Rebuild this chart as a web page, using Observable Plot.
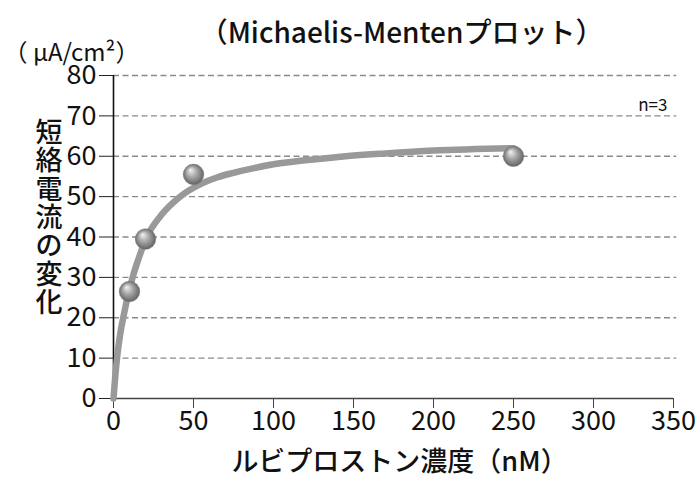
<!DOCTYPE html>
<html><head><meta charset="utf-8">
<script src="https://cdn.jsdelivr.net/npm/d3@7"></script>
<script src="https://cdn.jsdelivr.net/npm/@observablehq/plot@0.6"></script>
<style>
body{margin:0;background:#fff;} svg{display:block;}
</style>
</head><body><div id="chart"></div>
<script>
// Measured points (concentration nM, change in short-circuit current μA/cm²)
const conc = [10, 20, 50, 250];
const current = [26.5, 39.5, 55.5, 60];
// Fitted Michaelis-Menten curve
const curveX = [0, 1, 2.2, 4, 6.6, 9, 12.3, 16, 20.2, 30, 41, 55, 65, 75, 87, 100, 120, 142, 170, 200, 250];
const curveY = [0, 5, 10, 15.5, 21, 25.5, 30.5, 35, 39.5, 45.5, 49.8, 53.2, 54.8, 55.9, 57.0, 58.0, 59.0, 59.9, 60.7, 61.4, 62];
const yTicks = [0, 10, 20, 30, 40, 50, 60, 70, 80];
const xTicks = [0, 50, 100, 150, 200, 250, 300, 350];
const gridY = [10, 20, 30, 40, 50, 60, 70, 80];
const title = "（Michaelis-Mentenプロット）";
const unitLabel = "（ μA/cm²）";
const yLabel = "短絡電流の変化";
const xLabel = "ルビプロストン濃度（nM）";
const note = "n=3";

const points = conc.map((c, i) => ({x: c, y: current[i]}));
const curve = curveX.map((c, i) => ({x: c, y: curveY[i]}));
const font = "'Noto Sans CJK JP', 'Noto Sans', sans-serif";
const tickFont = "'Liberation Sans Narrow', 'Noto Sans CJK JP', sans-serif";

const plot = Plot.plot({
  width: 700, height: 490,
  marginLeft: 113, marginRight: 27, marginTop: 75, marginBottom: 92,
  style: {fontFamily: font, fontSize: "22px", color: "#111", background: "#fff"},
  x: {domain: [0, 350], label: null},
  y: {domain: [0, 80], label: null},
  marks: [
    Plot.ruleY(gridY, {x1: 0, x2: 352, stroke: "#8a8a8a", strokeWidth: 1.4, strokeDasharray: "6,3.5"}),
    Plot.axisX({ticks: xTicks, tickSize: 10, tickPadding: 2, label: null, stroke: "#444", fontSize: 27, fontFamily: tickFont}),
    Plot.axisY({ticks: yTicks, tickSize: 14, tickPadding: 3, label: null, stroke: "#222", fontSize: 27, fontFamily: tickFont}),
    Plot.ruleY([0], {x1: 0, x2: 350, stroke: "#444", strokeWidth: 1.6}),
    Plot.ruleX([0], {y1: 0, y2: 80, stroke: "#111", strokeWidth: 1.6}),
    Plot.line(curve, {x: "x", y: "y", curve: "monotone-x", stroke: "#999", strokeWidth: 6.5}),
    Plot.dot(points, {x: "x", y: "y", r: 10.3, fill: "url(#sphere)", stroke: "#777", strokeWidth: 0.5}),
    Plot.text([title], {frameAnchor: "top", dx: 8, dy: -52, fontSize: 28, fontWeight: 500, fill: "#111"}),
    Plot.text([unitLabel], {frameAnchor: "top-left", dx: -110, dy: -32, textAnchor: "start", fontSize: 24, fill: "#111"}),
    Plot.text([yLabel.split("").join("\n")], {frameAnchor: "left", dx: -78, dy: -19, fontSize: 27, fontWeight: 500, lineHeight: 1.05, fill: "#111"}),
    Plot.text([xLabel], {frameAnchor: "bottom", dx: 6, dy: 72, fontSize: 27, fontWeight: 500, fill: "#111"}),
    Plot.text([note], {frameAnchor: "top-right", dx: -6, dy: 23, textAnchor: "end", fontSize: 17, fill: "#111"})
  ]
});

const svg = d3.select(plot);
const defs = svg.insert("defs", ":first-child");
const g = defs.append("radialGradient").attr("id", "sphere")
  .attr("cx", "50%").attr("cy", "50%").attr("r", "55%").attr("fx", "35%").attr("fy", "28%");
g.append("stop").attr("offset", "0%").attr("stop-color", "#f4f4f4");
g.append("stop").attr("offset", "45%").attr("stop-color", "#a8a8a8");
g.append("stop").attr("offset", "100%").attr("stop-color", "#5a5a5a");
document.getElementById("chart").appendChild(plot);
</script>
</body></html>
